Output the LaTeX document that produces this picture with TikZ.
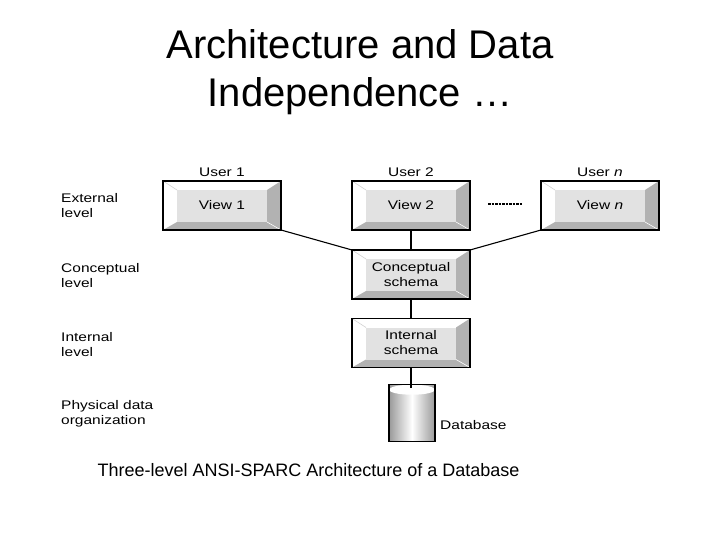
\documentclass[tikz,border=0pt]{standalone}
\usepackage{fontspec}
\setmainfont{Liberation Sans}
\newfontfamily\widefont[FakeStretch=1.24]{Liberation Sans}
\usetikzlibrary{calc}
\usetikzlibrary{shapes.geometric}
\definecolor{faceGray}{HTML}{E2E2E2}
\definecolor{sideGray}{HTML}{B2B2B2}
\tikzset{
    bevelbox/.style={draw=black,line width=1.1pt,inner sep=0pt,outer sep=0pt,
        minimum width=118pt,minimum height=49pt,align=center,
        font=\widefont\fontsize{12.5}{15}\selectfont,fill=white,
        path picture={
            \coordinate (sw) at (path picture bounding box.south west);
            \coordinate (ne) at (path picture bounding box.north east);
            \coordinate (se) at (path picture bounding box.south east);
            \coordinate (nw) at (path picture bounding box.north west);
            \coordinate (isw) at ($(sw)+(14,-8)$);
            \coordinate (ine) at ($(ne)+(-14,9)$);
            \coordinate (ise) at ($(se)+(-14,-8)$);
            \coordinate (inw) at ($(nw)+(14,9)$);
            \fill[sideGray] (sw) -- (isw) -- (ise) -- (ine) -- (ne) -- (se) -- cycle;
            \fill[faceGray] (isw) rectangle (ine);
            \draw[gray!35,line width=0.6pt] (nw) -- (inw);
            \draw[white,line width=0.6pt] (se) -- (ise);
        }},
    levellabel/.style={anchor=north west,inner sep=0pt,align=left,
        font=\widefont\fontsize{12.5}{15}\selectfont},
    userlabel/.style={inner sep=0pt,font=\widefont\fontsize{12.5}{15}\selectfont},
    link/.style={line width=1.1pt,black},
    dbcyl/.style={cylinder,shape border rotate=90,draw=black,line width=1.1pt,
        minimum width=46pt,minimum height=57pt,aspect=0.55,inner sep=0pt,outer sep=0pt,
        path picture={
            \shade[left color=gray!80,right color=gray!80,middle color=white]
                (path picture bounding box.south west) rectangle (path picture bounding box.north east);
            \fill[white] ($(path picture bounding box.north)+(0,5)$) ellipse (23 and 5);
        }},
}
\begin{document}
\begin{tikzpicture}[x=1pt,y=-1pt]
                    \useasboundingbox (0,0) rectangle (720,540);

                    \node[inner sep=0pt,align=center,font=\fontsize{40}{48}\selectfont] (title) at (360,72) {Architecture and Data\\Independence …};

                    \node[bevelbox] (view1) at (222,205.5) {View 1};
                    \node[bevelbox] (view2) at (411,205.5) {View 2};
                    \node[bevelbox] (viewn) at (600,205.5) {View \textit{n}};
                    \node[bevelbox] (conceptual) at (411,274.5) {Conceptual\\schema};
                    \node[bevelbox] (internal) at (411,343) {Internal\\schema};
                    \node[dbcyl] (database) at (412,413.5) {};
                    \coordinate (dbtop) at (411,388);

                    \node[userlabel] (user1) at (222,172) {User 1};
                    \node[userlabel] (user2) at (411,172) {User 2};
                    \node[userlabel] (usern) at (600,172) {User \textit{n}};

                    \node[levellabel] (external) at (61,193) {External\\level};
                    \node[levellabel] (conceptlevel) at (61,263) {Conceptual\\level};
                    \node[levellabel] (internallevel) at (61,332) {Internal\\level};
                    \node[levellabel] (physical) at (61,400) {Physical data\\organization};
                    \node[userlabel,anchor=west] (dblabel) at (440,425) {Database};

                    \node[inner sep=0pt,font=\fontsize{18}{21}\selectfont] (caption) at (308.5,470) {Three-level ANSI-SPARC Architecture of a Database};

                    \coordinate (dotsL) at (488,204);
                    \coordinate (dotsR) at (522,204);

                    \draw[link] (view1.south east) -- (conceptual.north west);
                    \draw[link] (view2.south) -- (conceptual.north);
                    \draw[link] (viewn.south west) -- (conceptual.north east);
                    \draw[link] (conceptual.south) -- (internal.north);
                    \draw[link] (internal.south) -- (dbtop);
                    \draw[link,dash pattern=on 2.5pt off 1pt] (dotsL) -- (dotsR);
                \end{tikzpicture}
\end{document}
